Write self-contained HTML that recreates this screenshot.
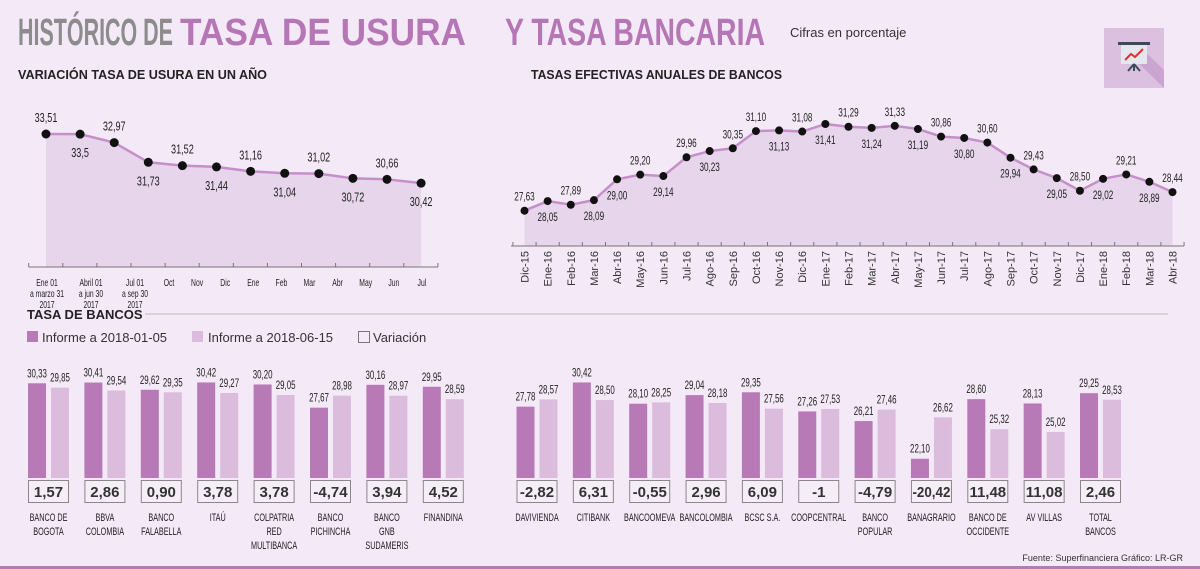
<!DOCTYPE html>
<html><head><meta charset="utf-8"><style>
html,body{margin:0;padding:0;background:#f4e9f6;}
svg{display:block;font-family:"Liberation Sans",sans-serif;}
</style></head><body>
<svg id="s" width="1200" height="569" viewBox="0 0 1200 569" xmlns="http://www.w3.org/2000/svg">
<rect width="1200" height="569" fill="#f4e9f6"/>
<text x="18" y="45" font-size="38" font-weight="bold" fill="#8c8c8c" textLength="155" lengthAdjust="spacingAndGlyphs">HISTÓRICO DE</text>
<text x="180" y="45" font-size="38" font-weight="bold" fill="#b576b5" textLength="286" lengthAdjust="spacingAndGlyphs">TASA DE USURA</text>
<text x="505" y="45" font-size="38" font-weight="bold" fill="#b576b5" textLength="260" lengthAdjust="spacingAndGlyphs">Y TASA BANCARIA</text>
<text x="790" y="37" font-size="13" fill="#333">Cifras en porcentaje</text>
<g>
<rect x="1104" y="28" width="60" height="60" fill="#dcc0e0"/>
<polygon points="1120,45 1164,88 1164,70 1138,45" fill="#caa5cf"/>
<rect x="1118" y="42" width="32" height="3" fill="#3b4a5a"/>
<rect x="1121" y="45" width="26" height="19" fill="#e4e8ee"/>
<polyline points="1125,60 1131,54 1135,57 1143,49" fill="none" stroke="#d33" stroke-width="2"/>
<line x1="1134" y1="64" x2="1128" y2="71" stroke="#3b4a5a" stroke-width="2"/>
<line x1="1134" y1="64" x2="1140" y2="71" stroke="#3b4a5a" stroke-width="2"/>
<line x1="1134" y1="64" x2="1134" y2="71" stroke="#3b4a5a" stroke-width="2"/>
</g>
<text x="18" y="79" font-size="13" font-weight="bold" fill="#222" textLength="249" lengthAdjust="spacingAndGlyphs">VARIACIÓN TASA DE USURA EN UN AÑO</text>
<text x="531" y="79" font-size="13" font-weight="bold" fill="#222" textLength="251" lengthAdjust="spacingAndGlyphs">TASAS EFECTIVAS ANUALES DE BANCOS</text>
<g id="c1"></g>
<g id="c2"></g>
<text x="27" y="319" font-size="13" font-weight="bold" fill="#222">TASA DE BANCOS</text>
<line x1="145" y1="314" x2="1168" y2="314" stroke="#bbb" stroke-width="1"/>
<g>
<g><rect x="27" y="331" width="11" height="11" fill="#b87ab6"/><text x="42" y="342" font-size="13" fill="#333">Informe a 2018-01-05</text></g>
<g><rect x="192" y="331" width="11" height="11" fill="#dcbcdd"/><text x="208" y="342" font-size="13" fill="#333">Informe a 2018-06-15</text></g>
<g><rect x="358.5" y="331.5" width="11" height="11" fill="none" stroke="#777"/><text x="373" y="342" font-size="13" fill="#333">Variación</text></g>
</g>
<g id="c3"></g>
<text x="1183" y="561" font-size="9" fill="#333" text-anchor="end">Fuente: Superfinanciera     Gráfico: LR-GR</text>
<rect x="0" y="566" width="1200" height="3" fill="#b87ab6"/>
</svg>
<script>
const NS="http://www.w3.org/2000/svg";
// chart 1 data
const usuraValues=[33.51,33.5,32.97,31.73,31.52,31.44,31.16,31.04,31.02,30.72,30.66,30.42];
const usuraLabels=["33,51","33,5","32,97","31,73","31,52","31,44","31,16","31,04","31,02","30,72","30,66","30,42"];
const usuraSide=[-1,1,-1,1,-1,1,-1,1,-1,1,-1,1];
const usuraTicks=[["Ene 01","a marzo 31","2017"],["Abril 01","a jun 30","2017"],["Jul 01","a sep 30","2017"],["Oct"],["Nov"],["Dic"],["Ene"],["Feb"],["Mar"],["Abr"],["May"],["Jun"],["Jul"]];
// chart 2 data
const tasaMonths=["Dic-15","Ene-16","Feb-16","Mar-16","Abr-16","May-16","Jun-16","Jul-16","Ago-16","Sep-16","Oct-16","Nov-16","Dic-16","Ene-17","Feb-17","Mar-17","Abr-17","May-17","Jun-17","Jul-17","Ago-17","Sep-17","Oct-17","Nov-17","Dic-17","Ene-18","Feb-18","Mar-18","Abr-18"];
const tasaValues=[27.63,28.05,27.89,28.09,29.00,29.20,29.14,29.96,30.23,30.35,31.10,31.13,31.08,31.41,31.29,31.24,31.33,31.19,30.86,30.80,30.60,29.94,29.43,29.05,28.50,29.02,29.21,28.89,28.44];
const tasaSide=[-1,1,-1,1,1,-1,1,-1,1,-1,-1,1,-1,1,-1,1,-1,1,-1,1,-1,1,-1,1,-1,1,-1,1,-1];
// chart 3 data
const banks=[["BANCO DE","BOGOTA"],["BBVA","COLOMBIA"],["BANCO","FALABELLA"],["ITAÚ"],["COLPATRIA","RED","MULTIBANCA"],["BANCO","PICHINCHA"],["BANCO","GNB","SUDAMERIS"],["FINANDINA"],["DAVIVIENDA"],["CITIBANK"],["BANCOOMEVA"],["BANCOLOMBIA"],["BCSC S.A."],["COOPCENTRAL"],["BANCO","POPULAR"],["BANAGRARIO"],["BANCO DE","OCCIDENTE"],["AV VILLAS"],["TOTAL","BANCOS"]];
const jan=[30.33,30.41,29.62,30.42,30.20,27.67,30.16,29.95,27.78,30.42,28.10,29.04,29.35,27.26,26.21,22.10,28.60,28.13,29.25];
const jun=[29.85,29.54,29.35,29.27,29.05,28.98,28.97,28.59,28.57,28.50,28.25,28.18,27.56,27.53,27.46,26.62,25.32,25.02,28.53];
const variation=["1,57","2,86","0,90","3,78","3,78","-4,74","3,94","4,52","-2,82","6,31","-0,55","2,96","6,09","-1","-4,79","-20,42","11,48","11,08","2,46"];

function el(tag,attrs,parent,text){const e=document.createElementNS(NS,tag);for(const k in attrs)e.setAttribute(k,attrs[k]);if(text!==undefined)e.textContent=text;parent.appendChild(e);return e;}
function ct(parent,x,y,size,str,sx){const e=el('text',{x:0,y:0,'font-size':size,'text-anchor':'middle',fill:'#222',transform:'translate('+x+','+y+') scale('+(sx||0.72)+',1)'},parent,str);return e;}
const fmt=v=>v.toFixed(2).replace('.',',');

// chart 1
(function(){
 const g=document.getElementById('c1');
 const x=i=>46+i*34.1, y=v=>134+(33.51-v)*15.9, base=267;
 let pts=usuraValues.map((v,i)=>x(i)+','+y(v));
 const area=el('polygon',{points:x(0)+','+base+' '+pts.join(' ')+' '+x(usuraValues.length-1)+','+base,fill:'#e7d6eb'},g);
 
 
 const ln=el('polyline',{points:pts.join(' '),fill:'none',stroke:'#c58fca','stroke-width':2.5},g);
 
 
 const ax=el('line',{x1:28.7,y1:base,x2:438,y2:base,stroke:'#777'},g);
 
 
 for(let k=0;k<=12;k++){const t=el('line',{x1:28.7+k*34.1,y1:base-4,x2:28.7+k*34.1,y2:base,stroke:'#777'},g);
  
  }
 usuraValues.forEach((v,i)=>{
  const c=el('circle',{cx:x(i),cy:y(v),r:4.5,fill:'#111'},g);
  
  
  const t=ct(g,x(i),y(v)+(usuraSide[i]<0?-12:23),13,usuraLabels[i],0.7);
  
  
 });
 const lx=i=>i<3?47+i*44:169+(i-3)*28.1;
 usuraTicks.forEach((lines,i)=>{lines.forEach((s,j)=>{
  const t=ct(g,lx(i),286+j*11,10,s,0.68);
  
  });});
})();

// chart 2
(function(){
 const g=document.getElementById('c2');
 const n=tasaValues.length, step=(1172.5-524.5)/(n-1);
 const x=i=>524.5+i*step, y=v=>210.7-(v-27.63)*22.94, base=246;
 const pts=tasaValues.map((v,i)=>x(i)+','+y(v));
 const area=el('polygon',{points:x(0)+','+base+' '+pts.join(' ')+' '+x(n-1)+','+base,fill:'#e7d6eb'},g);
 
 
 const ln=el('polyline',{points:pts.join(' '),fill:'none',stroke:'#c58fca','stroke-width':2.5},g);
 
 
 const ax=el('line',{x1:511,y1:base,x2:1184,y2:base,stroke:'#777'},g);
 
 
 for(let k=0;k<=n;k++){const tx=x(k)-step/2;const t=el('line',{x1:tx,y1:base-4,x2:tx,y2:base,stroke:'#777'},g);
  
  }
 tasaValues.forEach((v,i)=>{
  const c=el('circle',{cx:x(i),cy:y(v),r:4,fill:'#111'},g);
  
  
  const t=ct(g,x(i),y(v)+(tasaSide[i]<0?-10:20),12,fmt(v),0.68);
  
  
  const m=el('text',{x:x(i)+4,y:251,'font-size':11,'text-anchor':'end',fill:'#333',transform:'rotate(-90 '+(x(i)+4)+' 251)'},g,tasaMonths[i]);
  
  
 });
})();

// chart 3
(function(){
 const g=document.getElementById('c3');
 const gx=i=>i<8?28+i*56.4:516.5+(i-8)*56.35;
 const h=v=>(v-20)*9.17, base=478;
 banks.forEach((b,i)=>{
  const x0=gx(i);
  const d=el('rect',{x:x0,y:base-h(jan[i]),width:18,height:h(jan[i]),fill:'#b87ab6'},g);
  
  
  const l=el('rect',{x:x0+23,y:base-h(jun[i]),width:18,height:h(jun[i]),fill:'#dcbcdd'},g);
  
  
  const t1=ct(g,x0+9,base-h(jan[i])-6,12,fmt(jan[i]),0.66);
  
  
  const t2=ct(g,x0+32,base-h(jun[i])-6,12,fmt(jun[i]),0.66);
  
  
  const bx=el('rect',{x:x0+0.5,y:480.5,width:40,height:22,fill:'#f6eef7',stroke:'#888'},g);
  
  
  const vt=el('text',{x:x0+20.5,y:497,'font-size':15,'font-weight':'bold','text-anchor':'middle',fill:'#333'},g,variation[i]);
  if(variation[i].length>5){vt.setAttribute('textLength','38');vt.setAttribute('lengthAdjust','spacingAndGlyphs');}
  
  
  b.forEach((s,j)=>{const nt=ct(g,x0+20.5,521+j*14,11,s,0.66);
   
   });
 });
})();
</script>
</body></html>
